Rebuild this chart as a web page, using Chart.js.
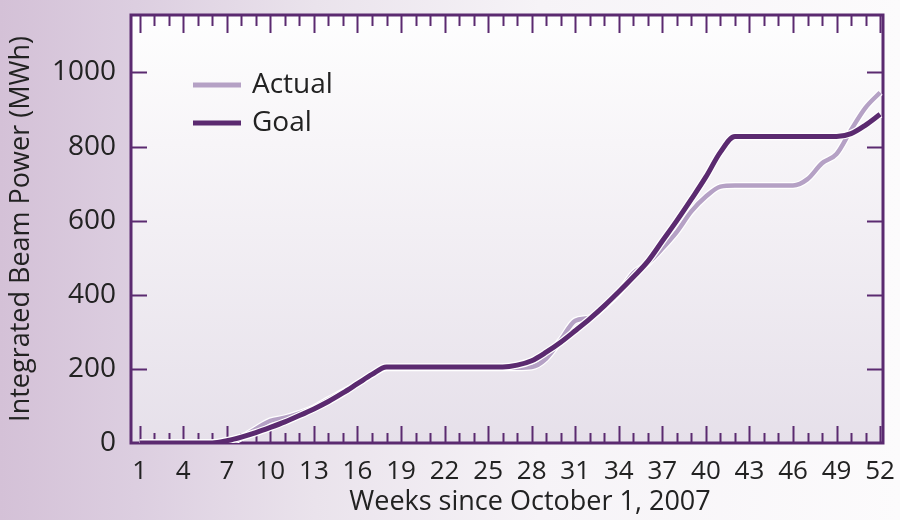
<!DOCTYPE html>
<html>
<head>
<meta charset="utf-8">
<script src="https://cdn.jsdelivr.net/npm/chart.js@4/dist/chart.umd.min.js"></script>
<style>
  html, body { margin: 0; padding: 0; }
  body {
    width: 900px; height: 520px; overflow: hidden;
    background: linear-gradient(to right, #d4c1d7 0%, #dccee0 15%, #eae3ec 35%, #f6f3f7 60%, #fcfbfc 100%);
  }
  .chart-container { position: relative; width: 900px; height: 520px; }
</style>
</head>
<body>
<div class="chart-container">
  <canvas id="power-chart" width="900" height="520"></canvas>
</div>
<script>
  // weeks since October 1, 2007
  const weeks = [1, 2, 3, 4, 5, 6, 7, 8, 9, 10, 11, 12, 13, 14, 15, 16, 17, 18, 19, 20, 21, 22, 23, 24, 25, 26,
                 27, 28, 29, 30, 31, 32, 33, 34, 35, 36, 37, 38, 39, 40, 41, 42, 43, 44, 45, 46, 47, 48, 49, 50, 51, 52];
  const weekLabels = [1, 4, 7, 10, 13, 16, 19, 22, 25, 28, 31, 34, 37, 40, 43, 46, 49, 52];
  const powerTicks = [0, 200, 400, 600, 800, 1000];

  // integrated beam power, MWh
  const actual = [0, 0, 0, 0, 0, 0, 0, 14, 38, 60, 68, 80, 95, 117, 138, 160, 185, 203,
                  203, 203, 203, 203, 203, 203, 203, 203, 203, 205,
                  228, 278, 330, 338, 368, 405, 458, 485, 525, 570, 625, 665, 692,
                  695, 695, 695, 695, 695, 712, 755, 780, 845, 905, 946];
  const goal = [0, 0, 0, 0, 0, 0, 6, 16, 28, 42, 57, 74, 92, 112, 135, 160, 185, 205,
                205, 205, 205, 205, 205, 205, 205, 205,
                210, 222, 245, 272, 303, 335, 370, 408, 448, 490, 545, 600, 658, 718, 785, 827,
                827, 827, 827, 827, 827, 827, 827, 835, 858, 887];

  const PURPLE = '#5b2a70';
  const LILAC = '#b5a1c5';
  const FONT = '"Open Sans", "DejaVu Sans", sans-serif';

  function pts(values) {
    return weeks.map((w, i) => ({ x: w, y: values[i] }));
  }

  // plot background, frame and inward tick marks
  const framePlugin = {
    id: 'frame',
    beforeDraw(chart) {
      const { ctx, chartArea: a } = chart;
      const g = ctx.createLinearGradient(0, a.top, 0, a.bottom);
      g.addColorStop(0, '#fefefe');
      g.addColorStop(0.3, '#f7f5f8');
      g.addColorStop(1, '#e6e0ea');
      ctx.save();
      ctx.fillStyle = g;
      ctx.fillRect(a.left, a.top, a.right - a.left, a.bottom - a.top);
      ctx.restore();
    },
    beforeDatasetsDraw(chart) {
      const { ctx, chartArea: a, scales } = chart;
      ctx.save();
      ctx.strokeStyle = PURPLE;
      ctx.lineWidth = 2;
      ctx.beginPath();
      weeks.forEach(w => {
        const x = Math.round(scales.x.getPixelForValue(w)) + 0.5;
        const major = (w - 1) % 3 === 0;
        ctx.moveTo(x, a.bottom);
        ctx.lineTo(x, a.bottom - (major ? 17 : 10));
        ctx.moveTo(x, a.top);
        ctx.lineTo(x, a.top + (major ? 18 : 11));
      });
      powerTicks.forEach(v => {
        if (v === 0) return;
        const y = Math.round(scales.y.getPixelForValue(v)) + 0.5;
        ctx.moveTo(a.left, y);
        ctx.lineTo(a.left + 16, y);
        ctx.moveTo(a.right, y);
        ctx.lineTo(a.right - 16, y);
      });
      ctx.stroke();
      ctx.lineWidth = 3;
      ctx.strokeRect(a.left, a.top, a.right - a.left, a.bottom - a.top);
      ctx.restore();
    },
    afterDraw(chart) {
      const { ctx } = chart;
      ctx.save();
      // x title
      ctx.fillStyle = '#222';
      ctx.font = '27px ' + FONT;
      ctx.textAlign = 'center';
      ctx.textBaseline = 'middle';
      ctx.fillText('Weeks since October 1, 2007', 530, 502);
      // legend inside the plot
      const items = chart.data.datasets.filter(d => !d.halo).sort((p, q) => p.legendIndex - q.legendIndex);
      ctx.textAlign = 'left';
      ctx.font = '28px ' + FONT;
      items.forEach((d, i) => {
        const y = 85 + i * 38;
        ctx.strokeStyle = d.borderColor;
        ctx.lineWidth = 5;
        ctx.beginPath();
        ctx.moveTo(193, y);
        ctx.lineTo(241, y);
        ctx.stroke();
        ctx.fillStyle = '#222';
        ctx.fillText(d.label, 252, y);
      });
      ctx.restore();
    }
  };

  const lineBase = {
    pointRadius: 0,
    fill: false,
    cubicInterpolationMode: 'monotone'
  };

  // lower order is drawn on top
  const data = {
    datasets: [
      { ...lineBase, label: 'Goal', legendIndex: 1, order: 0, data: pts(goal), borderColor: PURPLE, borderWidth: 5 },
      { ...lineBase, label: 'halo-goal', halo: true, order: 1, data: pts(goal), borderColor: '#ffffff', borderWidth: 7.5 },
      { ...lineBase, label: 'Actual', legendIndex: 0, order: 2, data: pts(actual), borderColor: LILAC, borderWidth: 4.5 },
      { ...lineBase, label: 'halo-actual', halo: true, order: 3, data: pts(actual), borderColor: '#ffffff', borderWidth: 7 }
    ]
  };

  const options = {
    responsive: false,
    animation: false,
    layout: { padding: { top: 15, right: 17, left: 0, bottom: 0 } },
    plugins: { legend: { display: false }, tooltip: { enabled: false } },
    scales: {
      x: {
        type: 'linear',
        min: 0.4,
        max: 52.2,
        grid: { display: false, drawTicks: false },
        border: { display: false },
        afterBuildTicks(scale) { scale.ticks = weekLabels.map(v => ({ value: v })); },
        afterFit(scale) {
          scale.height = 77;
          scale.paddingLeft = 0;
          scale.paddingRight = 0;
        },
        ticks: {
          autoSkip: false,
          maxRotation: 0,
          padding: 13,
          color: '#222',
          font: { family: FONT, size: 26 },
          callback: v => String(v)
        }
      },
      y: {
        min: 0,
        max: 1155,
        grid: { display: false, drawTicks: false },
        border: { display: false },
        afterBuildTicks(scale) { scale.ticks = powerTicks.map(v => ({ value: v })); },
        afterFit(scale) {
          scale.width = 131;
          scale.paddingTop = 0;
          scale.paddingBottom = 0;
        },
        ticks: {
          padding: 15,
          color: '#222',
          font: { family: FONT, size: 28 },
          callback: v => String(v)
        },
        title: {
          display: true,
          text: 'Integrated Beam Power (MWh)',
          color: '#222',
          font: { family: FONT, size: 27 },
          padding: { top: 5, bottom: 0 }
        }
      }
    }
  };

  new Chart(document.getElementById('power-chart'), {
    type: 'line',
    data: data,
    options: options,
    plugins: [framePlugin]
  });
</script>
</body>
</html>
